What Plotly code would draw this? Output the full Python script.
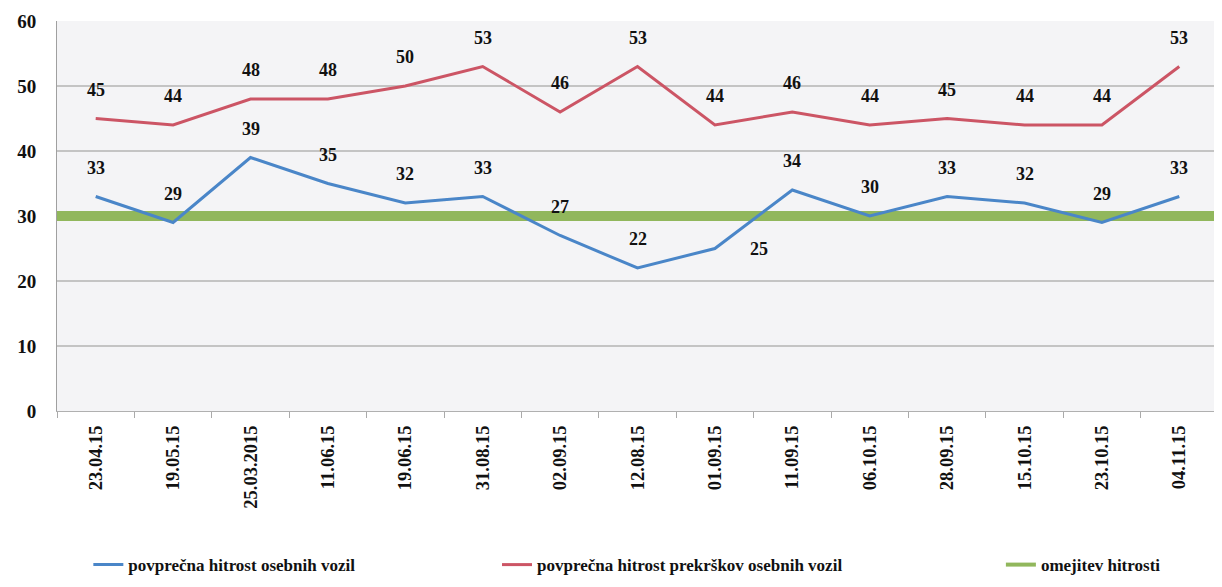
import plotly.graph_objects as go

dates = ["23.04.15", "19.05.15", "25.03.2015", "11.06.15", "19.06.15", "31.08.15", "02.09.15",
         "12.08.15", "01.09.15", "11.09.15", "06.10.15", "28.09.15", "15.10.15", "23.10.15", "04.11.15"]
avg_speed = [33, 29, 39, 35, 32, 33, 27, 22, 25, 34, 30, 33, 32, 29, 33]
avg_violation_speed = [45, 44, 48, 48, 50, 53, 46, 53, 44, 46, 44, 45, 44, 44, 53]
speed_limit = 30

NAME_AVG = "povprečna hitrost osebnih vozil"
NAME_VIOL = "povprečna hitrost prekrškov osebnih vozil"
NAME_LIMIT = "omejitev hitrosti"

BLUE = "#4a86c8"
RED = "#cc5565"
GREEN = "#91b75c"
FONT = "Liberation Serif, Times New Roman, serif"

# label placement tweaks (Excel put a couple of labels beside the point)
label_shift = {("avg", 8): (44, 0)}

fig = go.Figure()

# speed limit spans the whole category band, like the Excel original
fig.add_shape(type="line", xref="x", yref="y", x0=-0.5, x1=len(dates) - 0.5,
              y0=speed_limit, y1=speed_limit, layer="between",
              line=dict(color=GREEN, width=10))

fig.add_trace(go.Scatter(x=dates, y=avg_speed, mode="lines", name=NAME_AVG, legend="legend",
                         line=dict(color=BLUE, width=3)))
fig.add_trace(go.Scatter(x=dates, y=avg_violation_speed, mode="lines", name=NAME_VIOL, legend="legend2",
                         line=dict(color=RED, width=3)))
# legend entry for the limit line
fig.add_trace(go.Scatter(x=[dates[0]], y=[None], mode="lines", name=NAME_LIMIT, legend="legend3",
                         line=dict(color=GREEN, width=4)))

for key, series in (("avg", avg_speed), ("viol", avg_violation_speed)):
    for i, (d, v) in enumerate(zip(dates, series)):
        dx, dy = label_shift.get((key, i), (0, 29))
        fig.add_annotation(x=d, y=v, text=str(v), showarrow=False, xshift=dx, yshift=dy,
                           yanchor="middle", font=dict(family=FONT, size=18, color="#111", weight="bold"))

legend_style = dict(orientation="h", xanchor="left", y=-0.395, yanchor="middle",
                    font=dict(family=FONT, size=17, weight="bold"), bgcolor="rgba(0,0,0,0)")

# the page body adds an 8px offset, margins account for it
fig.update_layout(
    width=1222, height=587,
    margin=dict(l=49, r=12, t=13, b=165),
    paper_bgcolor="white",
    plot_bgcolor="#f4f4f6",
    font=dict(family=FONT, size=17, color="#111"),
    showlegend=True,
    legend=dict(x=0.027, **legend_style),
    legend2=dict(x=0.379, **legend_style),
    legend3=dict(x=0.813, **legend_style),
)
fig.update_xaxes(type="category", range=[-0.5, len(dates) - 0.5], tickangle=-90,
                 tickson="boundaries", ticks="outside", automargin=False,
                 ticklen=6, tickcolor="#aaa", showgrid=False, showline=True, linecolor="#b0b0b0",
                 ticklabelstandoff=6,
                 tickfont=dict(family=FONT, size=18.5, weight="bold"))
fig.update_yaxes(range=[0, 60], dtick=10, showgrid=True, gridcolor="#c4c4c4", gridwidth=1.5,
                 showline=True, linecolor="#a0a0a0", zeroline=False, ticks="", automargin=False,
                 ticklabelstandoff=16,
                 tickfont=dict(family=FONT, size=19, weight="bold"))

fig.write_html("out.html")
